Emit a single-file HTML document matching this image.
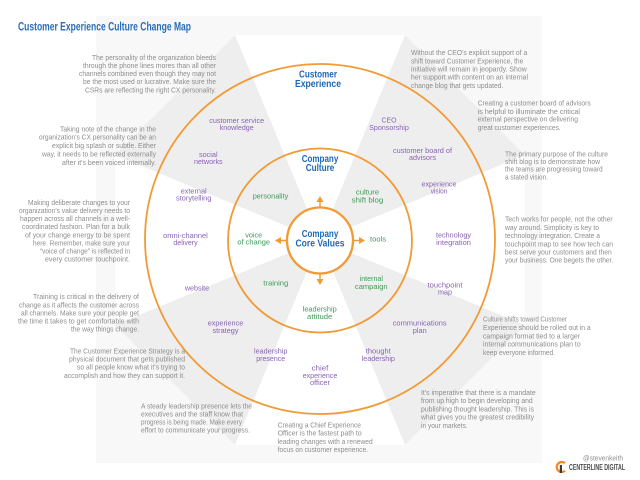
<!DOCTYPE html>
<html><head><meta charset="utf-8"><style>
html,body{margin:0;padding:0;background:#fff;}
svg{display:block;}
.b{font-family:"Liberation Sans",sans-serif;font-size:7px;fill:#8d8d8d;}
.p{font-family:"Liberation Sans",sans-serif;font-size:7.5px;fill:#8a62b2;text-anchor:middle;}
.g{font-family:"Liberation Sans",sans-serif;font-size:7.5px;fill:#3f9a58;text-anchor:middle;}
.h{font-family:"Liberation Sans",sans-serif;font-size:10px;font-weight:bold;fill:#1f68b8;text-anchor:middle;}
</style></head><body>
<svg width="640" height="480" viewBox="0 0 640 480" xmlns="http://www.w3.org/2000/svg">
<rect x="0" y="0" width="640" height="480" fill="#fff"/>
<rect x="96" y="16" width="446" height="447" fill="#f8f8f8"/>
<!-- wedges -->
<polygon points="320,240 525,155 405,35" fill="#eeeeee"/>
<polygon points="320,240 235,35 115,155" fill="#eeeeee"/>
<polygon points="320,240 115,325 235,445" fill="#eeeeee"/>
<polygon points="320,240 405,445 525,325" fill="#eeeeee"/>
<polygon points="320,240 405,35 235,35" fill="#fff"/>
<polygon points="320,240 115,155 115,325" fill="#fff"/>
<polygon points="320,240 235,445 405,445" fill="#fff"/>
<polygon points="320,240 525,325 525,155" fill="#fff"/>
<!-- circles -->
<circle cx="320" cy="239" r="175" fill="none" stroke="#f29a33" stroke-width="1.8"/>
<circle cx="320" cy="240.5" r="92" fill="none" stroke="#f29a33" stroke-width="1.8"/>
<circle cx="320" cy="240.5" r="33" fill="#fff" stroke="#f29a33" stroke-width="2.3"/>
<!-- arrows -->
<g stroke="#f29a33" stroke-width="1.5" fill="#f29a33">
<line x1="320" y1="207" x2="320" y2="200"/><polygon stroke="none" points="320,196 316.5,202 323.5,202"/>
<line x1="320" y1="274" x2="320" y2="281"/><polygon stroke="none" points="320,285 316.5,279 323.5,279"/>
<line x1="287" y1="240.5" x2="280" y2="240.5"/><polygon stroke="none" points="275,240.5 281,237 281,244"/>
<line x1="353" y1="240.5" x2="360" y2="240.5"/><polygon stroke="none" points="365,240.5 359,237 359,244"/>
</g>
<!-- title -->
<text x="18" y="30.5" font-family="Liberation Sans,sans-serif" font-size="11.5" font-weight="bold" fill="#2a6db5" textLength="173" lengthAdjust="spacingAndGlyphs">Customer Experience Culture Change Map</text>
<!-- blue heads -->
<text class="h" x="318" y="77.5" textLength="38" lengthAdjust="spacingAndGlyphs">Customer</text>
<text class="h" x="318" y="87" textLength="46" lengthAdjust="spacingAndGlyphs">Experience</text>
<text class="h" x="320" y="162" textLength="36.6" lengthAdjust="spacingAndGlyphs">Company</text>
<text class="h" x="320" y="171" textLength="28.6" lengthAdjust="spacingAndGlyphs">Culture</text>
<text class="h" x="320" y="237" font-size="10.5" textLength="36.6" lengthAdjust="spacingAndGlyphs">Company</text>
<text class="h" x="320" y="246.5" font-size="10.5" textLength="49" lengthAdjust="spacingAndGlyphs">Core Values</text>
<!-- purple -->
<g class="p">
<text x="236.7" y="123" textLength="55" lengthAdjust="spacingAndGlyphs">customer service</text>
<text x="236.7" y="130" textLength="34" lengthAdjust="spacingAndGlyphs">knowledge</text>
<text x="389" y="122.5" textLength="15" lengthAdjust="spacingAndGlyphs">CEO</text>
<text x="389" y="130" textLength="39.7" lengthAdjust="spacingAndGlyphs">Sponsorship</text>
<text x="422.5" y="153" textLength="59" lengthAdjust="spacingAndGlyphs">customer board of</text>
<text x="422.5" y="160" textLength="27" lengthAdjust="spacingAndGlyphs">advisors</text>
<text x="208.3" y="157" textLength="18.7" lengthAdjust="spacingAndGlyphs">social</text>
<text x="208.3" y="164" textLength="28.7" lengthAdjust="spacingAndGlyphs">networks</text>
<text x="193.7" y="193.5" textLength="26" lengthAdjust="spacingAndGlyphs">external</text>
<text x="193.7" y="200.7" textLength="35.3" lengthAdjust="spacingAndGlyphs">storytelling</text>
<text x="439" y="186.5" textLength="35" lengthAdjust="spacingAndGlyphs">experience</text>
<text x="439" y="193.5" textLength="16.7" lengthAdjust="spacingAndGlyphs">vision</text>
<text x="185.5" y="238" textLength="44.7" lengthAdjust="spacingAndGlyphs">omni-channel</text>
<text x="185.5" y="245" textLength="24.3" lengthAdjust="spacingAndGlyphs">delivery</text>
<text x="453.5" y="237.7" textLength="35" lengthAdjust="spacingAndGlyphs">technology</text>
<text x="453.5" y="245" textLength="34.7" lengthAdjust="spacingAndGlyphs">integration</text>
<text x="197" y="290.7" textLength="24.3" lengthAdjust="spacingAndGlyphs">website</text>
<text x="445" y="287.7" textLength="35" lengthAdjust="spacingAndGlyphs">touchpoint</text>
<text x="445" y="294.7" textLength="14" lengthAdjust="spacingAndGlyphs">map</text>
<text x="225.5" y="325.7" textLength="35.6" lengthAdjust="spacingAndGlyphs">experience</text>
<text x="225.5" y="333" textLength="26" lengthAdjust="spacingAndGlyphs">strategy</text>
<text x="419.7" y="325.7" textLength="54" lengthAdjust="spacingAndGlyphs">communications</text>
<text x="419.7" y="333" textLength="14" lengthAdjust="spacingAndGlyphs">plan</text>
<text x="270.7" y="353.5" textLength="33.3" lengthAdjust="spacingAndGlyphs">leadership</text>
<text x="270.7" y="361" textLength="29" lengthAdjust="spacingAndGlyphs">presence</text>
<text x="378.3" y="353.5" textLength="25" lengthAdjust="spacingAndGlyphs">thought</text>
<text x="378.3" y="361" textLength="33.3" lengthAdjust="spacingAndGlyphs">leadership</text>
<text x="320" y="370.7" textLength="16.7" lengthAdjust="spacingAndGlyphs">chief</text>
<text x="320" y="378" textLength="34.6" lengthAdjust="spacingAndGlyphs">experience</text>
<text x="320" y="385" textLength="20" lengthAdjust="spacingAndGlyphs">officer</text>
</g>
<!-- green -->
<g class="g">
<text x="270.5" y="198.5" textLength="35.6" lengthAdjust="spacingAndGlyphs">personality</text>
<text x="367.5" y="194.7" textLength="23.3" lengthAdjust="spacingAndGlyphs">culture</text>
<text x="367.5" y="202.5" textLength="31.6" lengthAdjust="spacingAndGlyphs">shift blog</text>
<text x="253.7" y="237.5" textLength="17" lengthAdjust="spacingAndGlyphs">voice</text>
<text x="253.7" y="244.7" textLength="32.7" lengthAdjust="spacingAndGlyphs">of change</text>
<text x="378" y="241.5" textLength="16" lengthAdjust="spacingAndGlyphs">tools</text>
<text x="275.8" y="285.7" textLength="25" lengthAdjust="spacingAndGlyphs">training</text>
<text x="371.3" y="281" textLength="23.3" lengthAdjust="spacingAndGlyphs">internal</text>
<text x="371.3" y="289" textLength="32.7" lengthAdjust="spacingAndGlyphs">campaign</text>
<text x="319.7" y="311.7" textLength="34" lengthAdjust="spacingAndGlyphs">leadership</text>
<text x="319.7" y="319" textLength="25.3" lengthAdjust="spacingAndGlyphs">attitude</text>
</g>
<!-- body text -->
<g class="b">
<text x="92" y="60" textLength="124" lengthAdjust="spacingAndGlyphs">The personality of the organization bleeds</text>
<text x="83" y="68" textLength="133" lengthAdjust="spacingAndGlyphs">through the phone lines mores than all other</text>
<text x="79" y="76" textLength="137" lengthAdjust="spacingAndGlyphs">channels combined even though they may not</text>
<text x="83" y="84.2" textLength="133" lengthAdjust="spacingAndGlyphs">be the most used or lucrative. Make sure the</text>
<text x="85" y="92.3" textLength="131" lengthAdjust="spacingAndGlyphs">CSRs are reflecting the right CX personality.</text>

<text x="60" y="131.6" textLength="96" lengthAdjust="spacingAndGlyphs">Taking note of the change in the</text>
<text x="39" y="139.6" textLength="117" lengthAdjust="spacingAndGlyphs">organization's CX personality can be an</text>
<text x="52" y="148" textLength="104" lengthAdjust="spacingAndGlyphs">explicit big splash or subtle. Either</text>
<text x="42" y="156.3" textLength="114" lengthAdjust="spacingAndGlyphs">way, it needs to be reflected externally</text>
<text x="62" y="165" textLength="94" lengthAdjust="spacingAndGlyphs">after it's been voiced internally.</text>

<text x="28" y="205" textLength="102" lengthAdjust="spacingAndGlyphs">Making deliberate changes to your</text>
<text x="19" y="213" textLength="111" lengthAdjust="spacingAndGlyphs">organization's value delivery needs to</text>
<text x="20" y="221" textLength="110" lengthAdjust="spacingAndGlyphs">happen across all channels in a well-</text>
<text x="22" y="229" textLength="108" lengthAdjust="spacingAndGlyphs">coordinated fashion. Plan for a bulk</text>
<text x="25" y="237.3" textLength="105" lengthAdjust="spacingAndGlyphs">of your change energy to be spent</text>
<text x="33" y="245.6" textLength="97" lengthAdjust="spacingAndGlyphs">here. Remember, make sure your</text>
<text x="40" y="253.3" textLength="90" lengthAdjust="spacingAndGlyphs">“voice of change” is reflected in</text>
<text x="45" y="261.6" textLength="85" lengthAdjust="spacingAndGlyphs">every  customer  touchpoint.</text>

<text x="33" y="299" textLength="106" lengthAdjust="spacingAndGlyphs">Training is critical in the delivery of</text>
<text x="19" y="307.3" textLength="120" lengthAdjust="spacingAndGlyphs">change as it affects the customer across</text>
<text x="21" y="315.6" textLength="118" lengthAdjust="spacingAndGlyphs">all channels. Make sure your people get</text>
<text x="18" y="323.3" textLength="121" lengthAdjust="spacingAndGlyphs">the time it takes to get comfortable with</text>
<text x="71" y="331.6" textLength="68" lengthAdjust="spacingAndGlyphs">the way things change.</text>

<text x="70" y="353.3" textLength="115" lengthAdjust="spacingAndGlyphs">The Customer Experience Strategy is a</text>
<text x="69" y="361.3" textLength="116" lengthAdjust="spacingAndGlyphs">physical document that gets published</text>
<text x="77" y="369.6" textLength="108" lengthAdjust="spacingAndGlyphs">so all people know what it's trying to</text>
<text x="64" y="378" textLength="121" lengthAdjust="spacingAndGlyphs">accomplish and how they can support it.</text>

<text x="141" y="408.3" textLength="111" lengthAdjust="spacingAndGlyphs">A steady leadership presence lets the</text>
<text x="141" y="416.3" textLength="102" lengthAdjust="spacingAndGlyphs">executives and the staff know that</text>
<text x="141" y="424.3" textLength="101" lengthAdjust="spacingAndGlyphs">progress is being made. Make every</text>
<text x="141" y="432.3" textLength="109" lengthAdjust="spacingAndGlyphs">effort to communicate your progress.</text>

<text x="277.7" y="427.6" textLength="83.3" lengthAdjust="spacingAndGlyphs">Creating a Chief Experience</text>
<text x="277.7" y="435.6" textLength="84" lengthAdjust="spacingAndGlyphs">Officer is the fastest path to</text>
<text x="277.7" y="444" textLength="95" lengthAdjust="spacingAndGlyphs">leading changes with a renewed</text>
<text x="277.7" y="452" textLength="90.3" lengthAdjust="spacingAndGlyphs">focus on customer experience.</text>

<text x="421" y="395" textLength="114.7" lengthAdjust="spacingAndGlyphs">It's imperative that there is a mandate</text>
<text x="421" y="403" textLength="111.7" lengthAdjust="spacingAndGlyphs">from up high to begin developing and</text>
<text x="421" y="411.6" textLength="113" lengthAdjust="spacingAndGlyphs">publishing thought leadership. This is</text>
<text x="421" y="419.6" textLength="113" lengthAdjust="spacingAndGlyphs">what gives you the greatest credibility</text>
<text x="421" y="428" textLength="46.7" lengthAdjust="spacingAndGlyphs">in your markets.</text>

<text x="483" y="321.6" textLength="84" lengthAdjust="spacingAndGlyphs">Culture shifts toward Customer</text>
<text x="483" y="330" textLength="107.7" lengthAdjust="spacingAndGlyphs">Experience should be rolled out in a</text>
<text x="483" y="338.3" textLength="97" lengthAdjust="spacingAndGlyphs">campaign format tied to a larger</text>
<text x="483" y="346.6" textLength="97.7" lengthAdjust="spacingAndGlyphs">internal communications plan to</text>
<text x="483" y="355" textLength="72" lengthAdjust="spacingAndGlyphs">keep everyone informed.</text>

<text x="505" y="221.6" textLength="107.7" lengthAdjust="spacingAndGlyphs">Tech works for people, not the other</text>
<text x="505" y="230" textLength="94" lengthAdjust="spacingAndGlyphs">way around. Simplicity is key to</text>
<text x="505" y="238" textLength="95" lengthAdjust="spacingAndGlyphs">technology integration. Create a</text>
<text x="505" y="246.3" textLength="108" lengthAdjust="spacingAndGlyphs">touchpoint map to see how tech can</text>
<text x="505" y="254.3" textLength="106.7" lengthAdjust="spacingAndGlyphs">best serve your customers and then</text>
<text x="505" y="262.3" textLength="108.3" lengthAdjust="spacingAndGlyphs">your business. One begets the other.</text>

<text x="505" y="156.3" textLength="103" lengthAdjust="spacingAndGlyphs">The primary purpose of the culture</text>
<text x="505" y="164" textLength="95" lengthAdjust="spacingAndGlyphs">shift blog is to demonstrate how</text>
<text x="505" y="171.6" textLength="97.7" lengthAdjust="spacingAndGlyphs">the teams are progressing toward</text>
<text x="505" y="179.6" textLength="43" lengthAdjust="spacingAndGlyphs">a stated vision.</text>

<text x="477.7" y="105.6" textLength="113" lengthAdjust="spacingAndGlyphs">Creating a customer board of advisors</text>
<text x="477.7" y="114" textLength="102.3" lengthAdjust="spacingAndGlyphs">is helpful to illuminate the critical</text>
<text x="477.7" y="121.6" textLength="100.3" lengthAdjust="spacingAndGlyphs">external perspective on delivering</text>
<text x="477.7" y="130" textLength="83" lengthAdjust="spacingAndGlyphs">great customer experiences.</text>

<text x="411" y="55" textLength="116.3" lengthAdjust="spacingAndGlyphs">Without the CEO's explicit support of a</text>
<text x="411" y="63.3" textLength="112.3" lengthAdjust="spacingAndGlyphs">shift toward Customer Experience, the</text>
<text x="411" y="71.6" textLength="115.7" lengthAdjust="spacingAndGlyphs">initiative will remain in jeopardy. Show</text>
<text x="411" y="79.6" textLength="117" lengthAdjust="spacingAndGlyphs">her support with content on an internal</text>
<text x="411" y="88" textLength="92.3" lengthAdjust="spacingAndGlyphs">change blog that gets updated.</text>

<text x="583" y="460.5" textLength="40" lengthAdjust="spacingAndGlyphs">@stevenkeith</text>
</g>
<!-- logo -->
<path d="M 565 463.2 A 5 5 0 1 0 565 470.8" fill="none" stroke="#f08a24" stroke-width="2.2"/>
<rect x="559.8" y="465" width="2.2" height="8" fill="#3a3a3a"/>
<text x="569" y="470" font-family="Liberation Sans,sans-serif" font-size="8" font-weight="bold" fill="#4a4a4a" textLength="56" lengthAdjust="spacingAndGlyphs">CENTERLINE DIGITAL</text>
</svg>
</body></html>
